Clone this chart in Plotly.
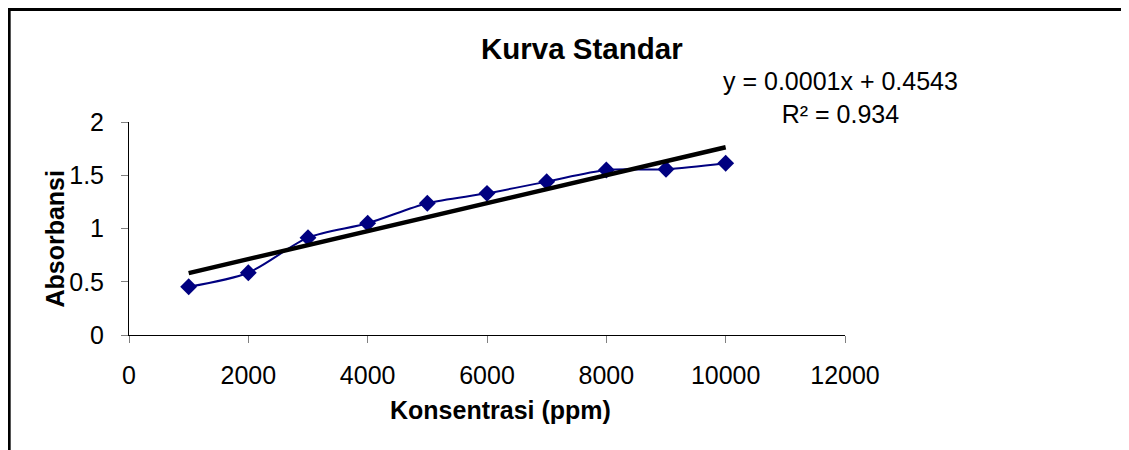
import numpy as np
import plotly.graph_objects as go

# Data
konsentrasi = [1000, 2000, 3000, 4000, 5000, 6000, 7000, 8000, 9000, 10000]
absorbansi = [0.453, 0.585, 0.914, 1.049, 1.237, 1.330, 1.440, 1.549, 1.556, 1.612]
x_ticks = [0, 2000, 4000, 6000, 8000, 10000, 12000]
y_ticks = [0, 0.5, 1, 1.5, 2]
title_text = "Kurva Standar"
x_title = "Konsentrasi (ppm)"
y_title = "Absorbansi"
eq_text = "y = 0.0001x + 0.4543<br>R² = 0.934"

# Linear trendline (least squares on data)
slope, intercept = np.polyfit(konsentrasi, absorbansi, 1)
trend_x = [konsentrasi[0], konsentrasi[-1]]
trend_y = [slope * v + intercept for v in trend_x]

# page body has an 8px margin; work in screen coordinates and convert
OFF = 8
W, H = 1129, 450 - OFF
L = 128.5 - OFF
R = W - (845.5 - OFF)
T = 122 - OFF
B = H - (335 - OFF)
PW, PH = W - L - R, H - T - B


def px(x):
    return (x - OFF - L) / PW


def py(y):
    return (H - B - (y - OFF)) / PH


FONT = "Arial, 'Liberation Sans', sans-serif"
FS = 25

fig = go.Figure()
fig.add_trace(go.Scatter(
    x=konsentrasi, y=absorbansi, mode="lines+markers",
    line=dict(color="#000080", width=2, shape="spline", smoothing=0.8),
    marker=dict(symbol="diamond", size=13, color="#000080"),
    showlegend=False, hoverinfo="x+y",
))
fig.add_trace(go.Scatter(
    x=trend_x, y=trend_y, mode="lines",
    line=dict(color="black", width=4.5),
    showlegend=False,
))

fig.update_layout(
    width=W, height=H,
    margin=dict(l=L, r=R, t=T, b=B),
    paper_bgcolor="white", plot_bgcolor="white",
    font=dict(family=FONT, size=FS, color="black"),
    xaxis=dict(range=[0, 12000], tickvals=x_ticks, ticktext=[str(v) for v in x_ticks],
               showline=True, linecolor="black", linewidth=1, showgrid=False, zeroline=False,
               ticks="outside", ticklen=7, tickcolor="#808080", tickwidth=1,
               ticklabelstandoff=11, tickfont=dict(size=FS)),
    yaxis=dict(range=[0, 2], tickvals=y_ticks, ticktext=["0", "0.5", "1", "1.5", "2"],
               showline=True, linecolor="black", linewidth=1, showgrid=False, zeroline=False,
               ticks="outside", ticklen=7, tickcolor="#808080", tickwidth=1,
               ticklabelstandoff=12, tickfont=dict(size=FS)),
    annotations=[
        dict(text="<b>" + title_text + "</b>", xref="paper", yref="paper",
             x=px(582), y=py(48), showarrow=False, font=dict(size=29.5),
             xanchor="center", yanchor="middle"),
        dict(text="<b>" + x_title + "</b>", xref="paper", yref="paper",
             x=px(501), y=py(410), showarrow=False, font=dict(size=FS),
             xanchor="center", yanchor="middle"),
        dict(text="<b>" + y_title + "</b>", xref="paper", yref="paper",
             x=px(54), y=py(239), showarrow=False, font=dict(size=FS), textangle=-90,
             xanchor="center", yanchor="middle"),
        dict(text=eq_text, xref="paper", yref="paper",
             x=px(841), y=py(98), showarrow=False, font=dict(size=FS), align="center",
             xanchor="center", yanchor="middle"),
    ],
    shapes=[
        dict(type="line", xref="paper", yref="paper", x0=px(8.5), x1=px(8.5), y0=py(8.5), y1=py(470),
             line=dict(color="black", width=3)),
        dict(type="line", xref="paper", yref="paper", x0=px(7), x1=px(1160), y0=py(9.5), y1=py(9.5),
             line=dict(color="black", width=3)),
    ],
)

fig.write_html("out.html")
